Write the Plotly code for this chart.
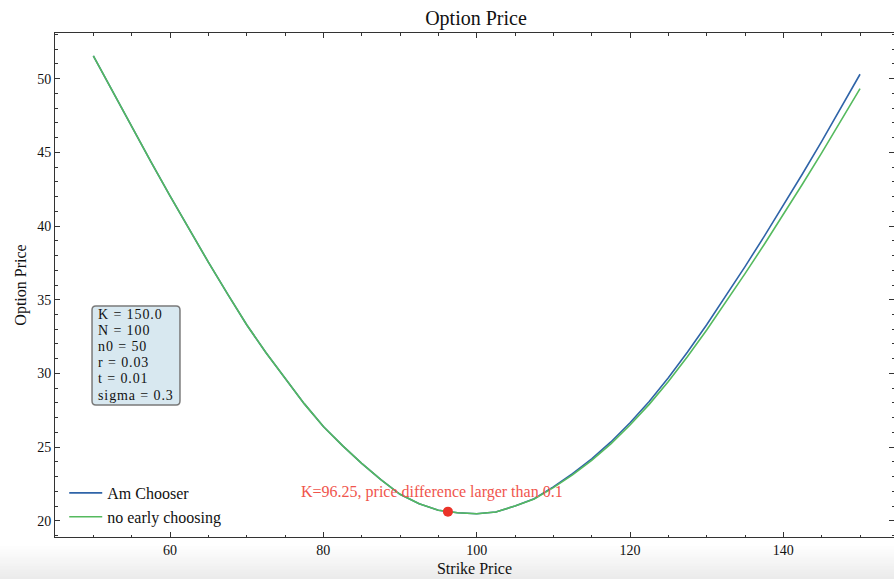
import plotly.graph_objects as go

# ---- data ----
strike = [50, 52.5, 55, 57.5, 60, 62.5, 65, 67.5, 70, 72.5, 75, 77.5, 80, 82.5, 85, 87.5,
          90, 92.5, 95, 97.5, 100, 102.5, 105, 107.5, 110, 112.5, 115, 117.5, 120, 122.5,
          125, 127.5, 130, 132.5, 135, 137.5, 140, 142.5, 145, 147.5, 150]
no_early = [51.55, 49.13, 46.75, 44.38, 42.05, 39.78, 37.55, 35.4, 33.3, 31.42, 29.65, 27.95,
            26.4, 25.1, 23.9, 22.8, 21.8, 21.15, 20.72, 20.55, 20.48, 20.6, 21.0, 21.48,
            22.25, 23.12, 24.1, 25.22, 26.5, 27.9, 29.45, 31.15, 32.95, 34.82, 36.77, 38.75,
            40.78, 42.85, 44.97, 47.13, 49.32]
am_chooser = [51.55, 49.13, 46.75, 44.38, 42.05, 39.78, 37.55, 35.4, 33.3, 31.42, 29.65, 27.95,
              26.4, 25.1, 23.9, 22.8, 21.8, 21.15, 20.72, 20.55, 20.48, 20.6, 21.0, 21.5,
              22.3, 23.2, 24.2, 25.35, 26.65, 28.1, 29.7, 31.45, 33.3, 35.25, 37.25, 39.3,
              41.4, 43.55, 45.75, 48.0, 50.3]
flag_k = [96.25]
flag_price = [20.62]
flag_text = "K=96.25, price difference larger than 0.1"
param_lines = ["K = 150.0", "N = 100", "n0 = 50", "r = 0.03", "t = 0.01", "sigma = 0.3"]

FONT = "Liberation Serif"
BLUE = "#2f64a8"
GREEN = "#55ba5e"
RED = "#ea3329"

fig = go.Figure()
fig.add_trace(go.Scatter(x=strike, y=am_chooser, mode="lines", name="Am Chooser",
                         line=dict(color=BLUE, width=1.6)))
fig.add_trace(go.Scatter(x=strike, y=no_early, mode="lines", name="no early choosing",
                         line=dict(color=GREEN, width=1.6)))
fig.add_trace(go.Scatter(x=flag_k, y=flag_price, mode="markers", showlegend=False,
                         marker=dict(color=RED, size=10)))

# red annotation text
fig.add_annotation(x=94.2, y=21.95, text=flag_text, showarrow=False,
                   font=dict(family=FONT, size=16, color="#f0554d"))

# parameter box (rounded)
x0, x1, y0, y1 = 49.83, 61.3, 27.86, 34.58
rx, ry = 0.5, 0.27
path = (f"M {x0+rx},{y0} L {x1-rx},{y0} Q {x1},{y0} {x1},{y0+ry} "
        f"L {x1},{y1-ry} Q {x1},{y1} {x1-rx},{y1} L {x0+rx},{y1} Q {x0},{y1} {x0},{y1-ry} "
        f"L {x0},{y0+ry} Q {x0},{y0} {x0+rx},{y0} Z")
fig.add_shape(type="path", path=path, xref="x", yref="y",
              fillcolor="#d8e8f0", line=dict(color="#7a7a7a", width=1.5), layer="above")
box_text = "<br>".join(
    f"<span style='font-size:14px;letter-spacing:0.9px'>{t}</span>" for t in param_lines)
fig.add_annotation(x=50.4, y=31.22, text=box_text, showarrow=False, xanchor="left",
                   yanchor="middle", align="left",
                   font=dict(family=FONT, size=12.4, color="#111"))

# bottom grey gradient band (screenshot shade)
n_bands = 16
for i in range(n_bands):
    top_px = 546 + i * 2
    g = int(255 - (i + 1) * 1.2)
    fig.add_shape(type="rect", xref="paper", yref="paper", x0=-0.1, x1=1.1,
                  y0=(536.7 - 579) / 503.4 - 0.01, y1=(536.7 - top_px) / 503.4,
                  fillcolor=f"rgb({g},{g},{g})", line=dict(width=0), layer="below")

axis_common = dict(showline=True, linecolor="#333", linewidth=1, mirror="allticks",
                   ticks="inside", ticklen=5, tickcolor="#333", tickwidth=1,
                   showgrid=False, zeroline=False,
                   tickfont=dict(family=FONT, size=14, color="#111"))

fig.update_xaxes(range=[45, 154.43], dtick=20, tick0=0,
                 minor=dict(ticks="inside", ticklen=2.5, dtick=5, tick0=0, tickcolor="#333"),
                 title=dict(text="Strike Price", font=dict(family=FONT, size=16, color="#111"),
                            standoff=6),
                 **axis_common)
fig.update_yaxes(range=[18.9, 53.1], dtick=5, tick0=0,
                 minor=dict(ticks="inside", ticklen=2.5, dtick=1, tick0=0, tickcolor="#333"),
                 title=dict(text="Option Price", font=dict(family=FONT, size=16, color="#111"),
                            standoff=6),
                 **axis_common)

fig.update_layout(
    width=894, height=579,
    margin=dict(l=55, r=0, t=33, b=42),
    plot_bgcolor="white", paper_bgcolor="white",
    title=dict(text="Option Price", xref="container", x=476 / 894, xanchor="center",
               y=1 - 18 / 579, yanchor="middle",
               font=dict(family=FONT, size=20, color="#111")),
    legend=dict(x=0.011, y=0.006, xanchor="left", yanchor="bottom", bgcolor="rgba(0,0,0,0)",
                font=dict(family=FONT, size=16, color="#111"), tracegroupgap=0,
                itemwidth=33),
    showlegend=True,
)

fig.write_html("out.html")
